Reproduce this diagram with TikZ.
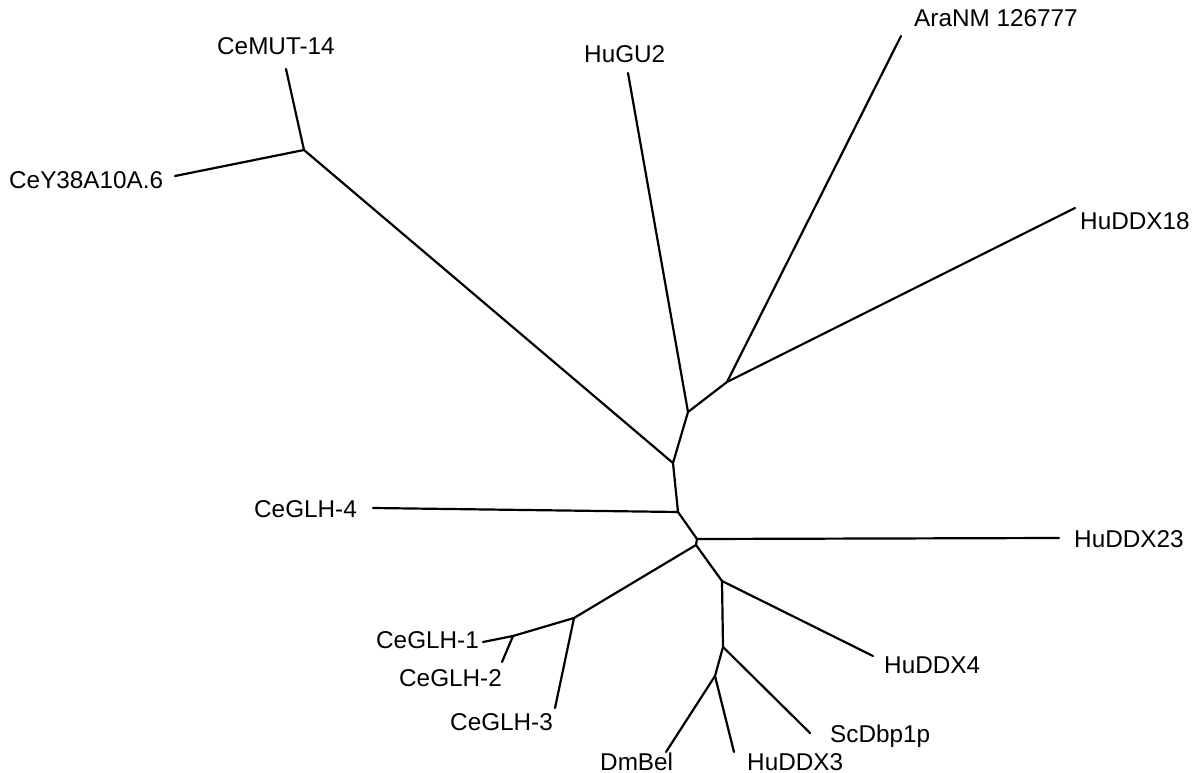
\documentclass[tikz,border=0pt]{standalone}
\usepackage{fontspec}
\setmainfont{Liberation Sans}
\begin{document}
\begin{tikzpicture}[x=1pt,y=-1pt,
  edge/.style={line width=2.2pt,line cap=round,line join=round},
  lbl/.style={anchor=base west,inner sep=0pt,font=\fontsize{24.3}{28}\selectfont}]
\useasboundingbox (0,0) rectangle (1202,773);
% internal nodes
\coordinate (H) at (304,150);
\coordinate (C) at (673,463);
\coordinate (A) at (688,412);
\coordinate (B) at (727,382);
\coordinate (D) at (678,512);
\coordinate (E) at (697,539);
\coordinate (F) at (696,545);
\coordinate (K) at (574,618);
\coordinate (L) at (513,636);
\coordinate (G) at (722,581);
\coordinate (I) at (723,647);
\coordinate (J) at (715,676);
% leaf ends
\coordinate (eMUT) at (286,69);
\coordinate (eY38) at (175,176);
\coordinate (eGU2) at (628,73);
\coordinate (eAra) at (901,36);
\coordinate (e18) at (1075,208);
\coordinate (eG4) at (373,508);
\coordinate (e23) at (1059,538);
\coordinate (eG1) at (483,642);
\coordinate (eG2) at (502,662);
\coordinate (eG3) at (555,708);
\coordinate (e4) at (873,656);
\coordinate (eSc) at (810,733);
\coordinate (eDm) at (666,752);
\coordinate (e3) at (734,752);
% labels
\node[lbl] (tMUT) at (217,55) {CeMUT-14};
\node[lbl] (tGU2) at (584,63) {HuGU2};
\node[lbl] (tAra) at (914,27) {AraNM 126777};
\node[lbl] (t18) at (1080,229) {HuDDX18};
\node[lbl] (tY38) at (9,189) {CeY38A10A.6};
\node[lbl] (tG4) at (254,517) {CeGLH-4};
\node[lbl] (t23) at (1074,547) {HuDDX23};
\node[lbl] (t4) at (884,673) {HuDDX4};
\node[lbl] (tSc) at (830,742) {ScDbp1p};
\node[lbl] (tDm) at (600,770) {DmBel};
\node[lbl] (t3) at (747,770) {HuDDX3};
\node[lbl] (tG1) at (376,648) {CeGLH-1};
\node[lbl] (tG2) at (399,686) {CeGLH-2};
\node[lbl] (tG3) at (450,730) {CeGLH-3};
% edges
\draw[edge] (eMUT) -- (H) -- (eY38);
\draw[edge] (H) -- (C) -- (A) -- (eGU2);
\draw[edge] (A) -- (B) -- (eAra);
\draw[edge] (B) -- (e18);
\draw[edge] (C) -- (D) -- (eG4);
\draw[edge] (D) -- (E) -- (e23);
\draw[edge] (E) -- (F) -- (K) -- (L) -- (eG1);
\draw[edge] (L) -- (eG2);
\draw[edge] (K) -- (eG3);
\draw[edge] (F) -- (G) -- (e4);
\draw[edge] (G) -- (I) -- (eSc);
\draw[edge] (I) -- (J) -- (eDm);
\draw[edge] (J) -- (e3);
\end{tikzpicture}
\end{document}
